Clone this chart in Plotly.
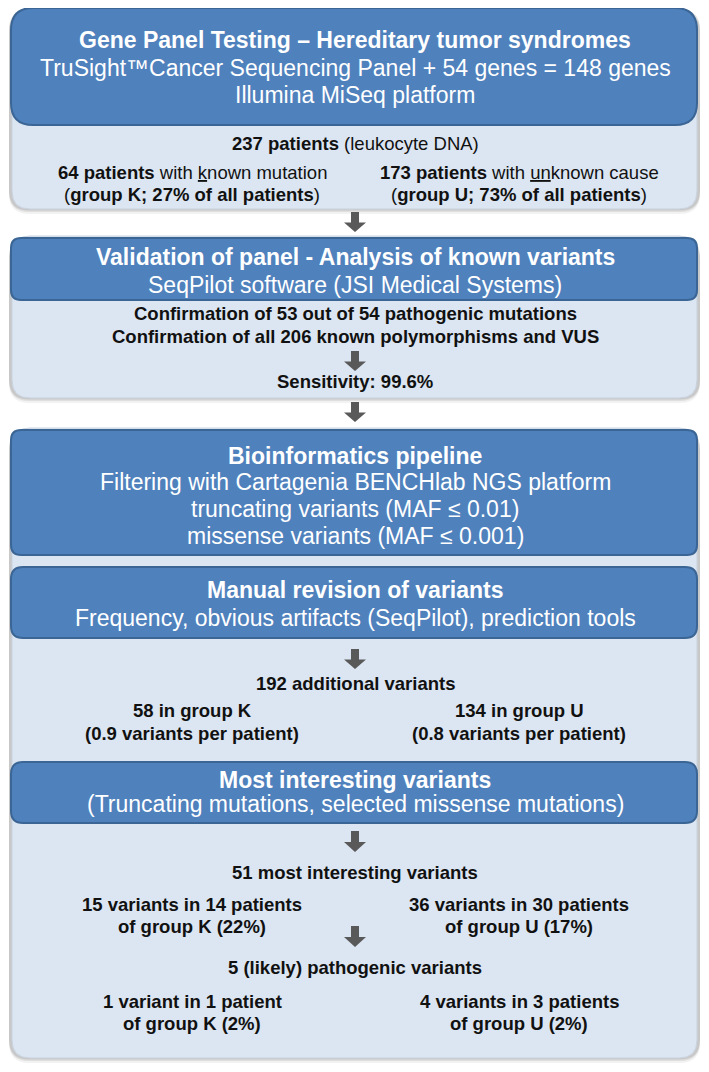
import plotly.graph_objects as go

# --- Text content of the flowchart ---
step1_title = "Gene Panel Testing – Hereditary tumor syndromes"
step1_lines = ["TruSight™Cancer Sequencing Panel + 54 genes = 148 genes",
               "Illumina MiSeq platform"]
step1_total = "<b>237 patients</b> (leukocyte DNA)"
step1_groups = [["<b>64 patients</b> with <u>k</u>nown mutation",
                 "(<b>group K; 27% of all patients</b>)"],
                ["<b>173 patients</b> with <u>un</u>known cause",
                 "(<b>group U; 73% of all patients</b>)"]]

step2_title = "Validation of panel - Analysis of known variants"
step2_lines = ["SeqPilot software (JSI Medical Systems)"]
step2_body = ["Confirmation of 53 out of 54 pathogenic mutations",
              "Confirmation of all 206 known polymorphisms and VUS"]
step2_result = "Sensitivity: 99.6%"

step3_title = "Bioinformatics pipeline"
step3_lines = ["Filtering with Cartagenia BENCHlab NGS platform",
               "truncating variants (MAF ≤ 0.01)",
               "missense variants (MAF ≤ 0.001)"]

step4_title = "Manual revision of variants"
step4_lines = ["Frequency, obvious artifacts (SeqPilot), prediction tools"]
step4_total = "192 additional variants"
step4_groups = [["58 in group K", "(0.9 variants per patient)"],
                ["134 in group U", "(0.8 variants per patient)"]]

step5_title = "Most interesting variants"
step5_lines = ["(Truncating mutations, selected missense mutations)"]
step5_total = "51 most interesting variants"
step5_groups = [["15 variants in 14 patients", "of group K (22%)"],
                ["36 variants in 30 patients", "of group U (17%)"]]
step6_total = "5 (likely) pathogenic variants"
step6_groups = [["1 variant in 1 patient", "of group K (2%)"],
                ["4 variants in 3 patients", "of group U (2%)"]]

W, H = 709, 1072
PAGE_MARGIN = 8  # default body margin of the html page
FONT = "Liberation Sans, Arial, Helvetica, sans-serif"
DARK = "#4F81BD"
DARK_LINE = "#3A6594"
LIGHT = "#DCE6F2"
ARROW = "#595959"
CX, LX, RX = 355, 192, 519
HEAD_SIZE = 23
BODY_SIZE = 18.5


def rounded_rect(x0, y0, x1, y1, r):
    """SVG path of a rounded rectangle (y grows downward)."""
    return (f"M{x0 + r},{y0} L{x1 - r},{y0} Q{x1},{y0} {x1},{y0 + r} "
            f"L{x1},{y1 - r} Q{x1},{y1} {x1 - r},{y1} L{x0 + r},{y1} "
            f"Q{x0},{y1} {x0},{y1 - r} L{x0},{y0 + r} Q{x0},{y0} {x0 + r},{y0} Z")


def block_arrow(x, y0, y1):
    """Small down-pointing block arrow."""
    mid = y0 + (y1 - y0) * 0.52
    return (f"M{x - 4},{y0} L{x + 4},{y0} L{x + 4},{mid} L{x + 11},{mid} "
            f"L{x},{y1} L{x - 11},{mid} L{x - 4},{mid} Z")


fig = go.Figure()
shapes = []
annotations = []


def add_panel(y0, y1):
    # soft shadow, then the light panel
    for dy, alpha in [(5, 0.05), (3, 0.08), (1.5, 0.10)]:
        shapes.append(dict(type="path", path=rounded_rect(9, y0 + dy - 1, 700, y1 + dy, 20),
                           fillcolor=f"rgba(0,0,0,{alpha})", line=dict(width=0), layer="below"))
    shapes.append(dict(type="path", path=rounded_rect(12, y0, 697, y1, 18),
                       fillcolor=LIGHT, line=dict(color="#C9D3E0", width=1), layer="below"))


def add_header(y0, y1, r):
    shapes.append(dict(type="path", path=rounded_rect(11, y0, 697, y1, r),
                       fillcolor=DARK, line=dict(color=DARK_LINE, width=2), layer="below"))


def add_text(text, x, y, size=BODY_SIZE, color="#111111", bold=False):
    if bold:
        text = f"<b>{text}</b>"
    annotations.append(dict(x=x, y=y, text=text, showarrow=False, xanchor="center",
                            yanchor="middle", font=dict(family=FONT, size=size, color=color)))


def add_arrow(y0, y1):
    shapes.append(dict(type="path", path=block_arrow(CX, y0, y1),
                       fillcolor=ARROW, line=dict(width=0)))


# Panels
add_panel(9, 209)
add_panel(236, 398)
add_panel(428, 1058)

# Header boxes
add_header(8, 125, 22)
add_header(238, 300, 10)
add_header(430, 555, 10)
add_header(567, 638, 12)
add_header(762, 823, 12)

# Arrows
add_arrow(212, 232)
add_arrow(351, 371)
add_arrow(402, 422)
add_arrow(649, 669)
add_arrow(831, 852)
add_arrow(926, 947)

# Step 1
add_text(step1_title, CX, 40, size=HEAD_SIZE, color="white", bold=True)
for i, line in enumerate(step1_lines):
    add_text(line, CX, 68 + 27 * i, size=HEAD_SIZE, color="white")
add_text(step1_total, CX, 143)
for x, group in zip([LX, RX], step1_groups):
    add_text(group[0], x, 172)
    add_text(group[1], x, 194)

# Step 2
add_text(step2_title, CX, 257, size=HEAD_SIZE, color="white", bold=True)
add_text(step2_lines[0], CX, 285, size=HEAD_SIZE, color="white")
for i, line in enumerate(step2_body):
    add_text(line, CX, 313 + 23 * i, bold=True)
add_text(step2_result, CX, 381, bold=True)

# Step 3
add_text(step3_title, CX, 456, size=HEAD_SIZE, color="white", bold=True)
for i, line in enumerate(step3_lines):
    add_text(line, CX, 482 + 27 * i, size=HEAD_SIZE, color="white")

# Step 4
add_text(step4_title, CX, 590, size=HEAD_SIZE, color="white", bold=True)
add_text(step4_lines[0], CX, 618, size=HEAD_SIZE, color="white")
add_text(step4_total, CX, 683, bold=True)
for x, group in zip([LX, RX], step4_groups):
    add_text(group[0], x, 710, bold=True)
    add_text(group[1], x, 733, bold=True)

# Step 5
add_text(step5_title, CX, 780, size=HEAD_SIZE, color="white", bold=True)
add_text(step5_lines[0], CX, 804, size=HEAD_SIZE, color="white")
add_text(step5_total, CX, 872, bold=True)
for x, group in zip([LX, RX], step5_groups):
    add_text(group[0], x, 904, bold=True)
    add_text(group[1], x, 926, bold=True)
add_text(step6_total, CX, 967, bold=True)
for x, group in zip([LX, RX], step6_groups):
    add_text(group[0], x, 1001, bold=True)
    add_text(group[1], x, 1023, bold=True)

# The page adds an 8px body margin, so shrink the figure and shift the
# axis ranges so that data units equal window pixels.
fig.update_layout(
    width=W - PAGE_MARGIN, height=H - PAGE_MARGIN,
    margin=dict(l=0, r=0, t=0, b=0),
    paper_bgcolor="white", plot_bgcolor="white",
    xaxis=dict(range=[PAGE_MARGIN, W], visible=False, fixedrange=True),
    yaxis=dict(range=[H, PAGE_MARGIN], visible=False, fixedrange=True),
    shapes=shapes,
    annotations=annotations,
    showlegend=False,
)

fig.write_html("out.html")
